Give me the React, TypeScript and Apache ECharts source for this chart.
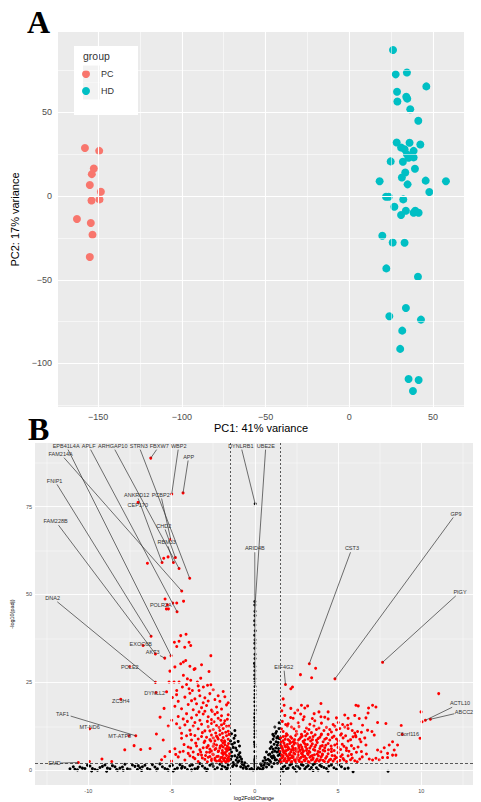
import React, { useEffect, useRef } from "react";
import * as echarts from "echarts";

const FONT = "'Liberation Sans', Arial, Helvetica, sans-serif";
const SERIF = "'Liberation Serif', 'Times New Roman', serif";

// ---------- Panel A: PCA ----------
const pcX = [-157.9, -149.4, -152.6, -153.8, -155.0, -148.4, -154.0, -149.2, -162.7, -154.4, -153.4, -155.0];
const pcY = [28.7, 27.0, 16.5, 13.1, 6.6, 2.6, -2.6, -2.0, -13.7, -16.1, -23.1, -36.4];
const hdX = [26.1, 27.7, 34.4, 46.0, 28.5, 34.0, 34.6, 28.7, 36.4, 41.2, 28.3, 36.0, 42.4, 30.9, 33.0, 38.4, 34.4, 37.4, 38.4, 35.4, 24.7, 32.0, 39.2, 33.4, 31.4, 18.1, 34.8, 45.6, 57.7, 47.8, 21.9, 23.5, 32.2, 26.9, 33.8, 38.4, 41.4, 30.9, 39.4, 19.7, 25.9, 33.0, 22.1, 41.0, 33.8, 23.9, 42.8, 31.6, 30.4, 35.4, 41.4, 38.0];
const hdY = [87.2, 72.7, 73.8, 65.5, 62.3, 59.3, 58.2, 56.5, 51.9, 45.0, 32.0, 31.8, 30.8, 29.0, 28.0, 27.0, 25.0, 23.9, 23.1, 22.9, 20.7, 20.5, 16.3, 14.1, 11.1, 8.8, 7.0, 9.2, 8.8, 2.4, -0.4, -0.4, -2.0, -6.4, -8.8, -10.0, -10.0, -11.3, -8.8, -23.7, -27.7, -27.9, -43.2, -48.2, -66.9, -71.8, -73.8, -80.4, -91.3, -109.3, -109.9, -116.4];
const pcaXTicks = [-150, -100, -50, 0, 50];
const pcaXMinor = [-125, -75, -25, 25];
const pcaYTicks = [-100, -50, 0, 50];
const pcaYMinor = [-125, -75, -25, 25, 75];

// ---------- Panel B: volcano ----------
// significant, down-regulated (x, y pairs)
const sigDown = [
  -6.25, 88.8, -4.99, 78.6, -4.31, 78.9, -7.01, 76.2, -5.05, 65.7, -6.45, 58.9, -5.57, 59.1, -5.47, 60.3,
  -5.21, 60.7, -4.77, 60.5, -4.89, 59.1, -4.55, 57.4, -3.91, 54.6, -4.39, 51.0, -5.39, 48.7, -4.93, 47.6,
  -4.69, 47.6, -4.28, 48.1, -5.25, 47.1, -5.19, 45.9, -5.31, 45.9, -4.67, 45.1, -6.23, 38.1, -6.71, 35.5,
  -5.97, 33.1, -5.03, 32.6, -5.41, 31.9, -7.51, 29.5, -5.97, 25.0, -5.93, 22.1, -8.05, 20.2, -9.92, 11.8,
  -7.15, 9.8, -7.55, 9.8, -10.6, 2.2, -9.93, 2.5, -9.18, 3.2, -8.59, 2.5, -7.81, 5.8, -7.25, 7.0,
  -6.85, 5.9, -6.29, 6.2, -5.91, 10.3, -5.69, 15.1, -5.45, 17.6, -4.99, 14.2, -5.15, 25.1, -4.85, 25.1,
  -2.64, 32.6, -4.45, 38.3, -4.83, 36.4, -4.55, 36.7, -4.13, 38.7, -3.95, 36.4, -4.21, 35.0, -3.85, 35.5,
  -4.69, 35.2, -4.29, 30.8, -4.15, 31.2, -4.45, 30.3, -3.59, 28.9, -3.65, 28.7, -4.29, 27.0, -4.05, 26.0,
  -3.85, 25.6, -3.45, 25.1, -3.25, 26.2, -4.55, 25.1, -4.69, 22.7, -4.35, 23.7, -3.95, 23.2, -3.75, 22.7,
  -3.35, 22.7, -3.09, 23.7, -2.75, 28.1, -2.84, 24.2, -2.64, 24.3,
  -4.7, 21.5, -4.2, 20.8, -3.9, 21.9, -3.6, 20.3, -3.3, 21.2, -3.0, 20.6, -2.7, 21.8, -2.4, 20.1, -2.1, 19.6, -1.8, 20.9,
  -4.8, 18.2, -4.4, 17.5, -4.0, 18.7, -3.7, 17.2, -3.5, 18.9, -3.2, 17.8, -2.9, 18.4, -2.6, 17.1, -2.3, 18.0, -2.0, 17.4, -1.7, 18.6,
  -4.6, 15.3, -4.3, 14.6, -4.1, 16.1, -3.8, 14.9, -3.5, 15.7, -3.3, 14.2, -3.1, 16.0, -2.8, 15.2, -2.6, 14.4, -2.4, 15.9,
  -2.2, 14.8, -2.0, 15.5, -1.8, 14.1, -1.6, 15.8,
  -4.5, 12.1, -4.2, 12.9, -3.9, 11.4, -3.7, 12.6, -3.4, 11.8, -3.2, 13.1, -3.0, 11.2, -2.8, 12.4, -2.6, 13.3, -2.5, 11.6,
  -2.3, 12.7, -2.1, 11.3, -2.0, 12.9, -1.9, 11.9, -1.7, 12.5, -1.6, 11.1,
  -4.4, 9.1, -4.1, 9.8, -3.8, 8.6, -3.6, 9.9, -3.4, 8.9, -3.2, 9.6, -3.0, 8.3, -2.9, 9.4, -2.7, 8.7, -2.6, 10.0,
  -2.5, 9.2, -2.4, 8.4, -2.3, 9.7, -2.2, 8.9, -2.1, 10.1, -2.0, 8.5, -1.9, 9.3, -1.8, 8.1, -1.7, 9.8, -1.6, 8.8, -1.55, 10.2,
  -4.8, 6.1, -4.3, 5.4, -4.0, 6.6, -3.7, 5.2, -3.5, 6.9, -3.3, 5.8, -3.1, 6.4, -2.9, 5.1, -2.8, 7.0, -2.7, 6.0,
  -2.6, 5.5, -2.5, 6.8, -2.4, 5.9, -2.3, 7.2, -2.2, 5.3, -2.1, 6.3, -2.0, 7.0, -1.95, 5.6, -1.9, 6.6, -1.85, 5.0,
  -1.8, 7.3, -1.75, 6.1, -1.7, 5.4, -1.65, 6.9, -1.6, 5.8, -1.55, 6.4,
  -5.6, 3.0, -5.0, 2.6, -4.6, 3.8, -4.2, 2.9, -3.9, 4.1, -3.6, 3.3, -3.4, 2.5, -3.2, 4.3, -3.0, 3.1, -2.85, 2.4,
  -2.7, 3.9, -2.6, 2.8, -2.5, 4.4, -2.4, 3.4, -2.3, 2.6, -2.2, 4.0, -2.1, 3.0, -2.0, 2.4, -1.95, 3.7, -1.9, 4.5,
  -1.85, 2.8, -1.8, 3.5, -1.75, 2.3, -1.7, 4.2, -1.65, 3.1, -1.6, 2.6, -1.55, 3.9, -1.52, 2.9,
  -1.52, 4.7, -1.58, 7.6, -1.62, 3.4, -1.68, 6.2, -1.72, 2.5, -1.78, 4.8, -1.82, 8.4, -1.88, 3.2, -1.92, 7.8, -1.98, 4.9,
  -2.04, 3.6, -2.08, 6.9, -2.14, 2.7, -2.18, 5.5, -2.24, 9.3, -2.28, 3.9, -2.34, 6.2, -2.4, 2.9, -2.46, 7.5, -2.52, 4.6,
  -2.58, 3.2, -2.64, 8.3, -2.72, 5.1, -2.8, 3.7, -2.88, 6.5, -2.96, 4.2, -3.05, 7.9, -3.15, 3.5, -3.25, 5.2, -3.4, 4.5,
  -3.55, 7.7, -3.7, 3.7, -3.85, 6.3, -4.0, 4.8, -4.25, 7.3, -4.5, 5.2, -4.75, 4.5, -5.1, 5.3, -5.4, 3.9,
  -1.55, 12.6, -1.65, 14.5, -1.75, 10.8, -1.85, 13.3, -1.95, 10.5, -2.05, 14.2, -2.15, 12.2, -2.25, 16.4, -2.35, 10.6,
  -2.45, 13.8, -2.55, 16.7, -2.7, 11.2, -2.85, 13.9, -3.0, 16.8, -3.15, 10.7, -3.35, 16.6, -3.6, 13.6, -3.85, 10.2,
  -4.05, 13.9, -4.4, 10.5, -4.7, 13.2, -5.2, 12.6, -5.5, 8.6,
  -1.6, 19.2, -1.9, 22.4, -2.2, 21.2, -2.5, 22.9, -2.8, 19.7, -3.1, 19.2, -3.4, 24.0, -3.8, 19.8, -4.1, 24.4, -4.6, 19.6,
  -4.95, 20.7, -5.3, 22.3, -5.1, 28.2, -4.8, 29.4, -3.2, 30.0, -3.9, 29.6
];
// significant, up-regulated
const sigUp = [
  3.27, 30.3, 3.65, 29.0, 2.74, 27.2, 3.41, 26.3, 4.81, 26.0, 7.67, 30.7, 1.84, 24.4, 2.16, 23.2, 2.26, 23.7,
  11.04, 21.8, 9.98, 16.6, 10.04, 13.8, 10.24, 14.2, 10.54, 14.5, 8.79, 12.7, 8.85, 10.2, 9.92, 9.1,
  2.80, 18.5, 3.17, 18.3, 3.0, 17.7, 3.97, 19.0, 1.76, 18.5, 2.16, 17.6, 2.57, 17.1, 6.07, 18.5, 6.21, 18.3,
  6.83, 17.7, 7.07, 18.5, 7.27, 18.0, 3.56, 16.1, 2.96, 15.2, 3.97, 15.2, 5.01, 13.6, 5.27, 13.0, 5.57, 12.8,
  5.77, 13.2, 6.27, 14.7, 6.67, 14.9, 6.47, 12.8, 7.37, 13.6, 7.87, 13.3, 6.77, 11.4, 7.17, 10.0, 7.03, 11.0,
  6.17, 11.0, 6.07, 9.5, 6.37, 8.1, 6.67, 7.2,
  7.37, 5.75, 7.57, 5.28, 7.77, 6.4, 7.97, 4.8, 8.07, 7.2, 8.27, 8.1, 8.37, 5.75, 8.47, 4.3, 8.27, 4.3, 8.57, 7.2,
  6.87, 3.2, 7.07, 2.9, 7.27, 3.4, 7.47, 3.0, 7.67, 3.6, 7.97, 3.6,
  1.6, 11.8, 1.9, 10.4, 2.2, 12.3, 2.5, 11.1, 2.8, 10.2, 3.1, 12.0, 3.4, 10.7, 3.7, 11.6, 4.0, 10.3, 4.3, 12.2,
  4.6, 10.9, 4.9, 11.5, 5.2, 10.4, 5.6, 11.9, 6.0, 10.6,
  1.55, 9.2, 1.7, 8.4, 1.85, 9.7, 2.0, 8.7, 2.15, 9.5, 2.3, 8.1, 2.45, 9.9, 2.6, 8.6, 2.75, 9.3, 2.9, 8.2,
  3.05, 9.8, 3.2, 8.9, 3.35, 8.3, 3.5, 9.6, 3.7, 8.5, 3.9, 9.4, 4.1, 8.1, 4.3, 9.1, 4.5, 8.6, 4.75, 9.7,
  5.0, 8.4, 5.3, 9.2, 5.6, 8.3, 5.9, 9.5, 6.3, 8.8,
  1.55, 7.1, 1.65, 6.3, 1.75, 7.7, 1.85, 6.6, 1.95, 7.3, 2.05, 6.1, 2.15, 7.9, 2.25, 6.8, 2.35, 7.4, 2.45, 6.2,
  2.55, 7.6, 2.65, 6.5, 2.75, 7.2, 2.85, 6.0, 2.95, 7.8, 3.05, 6.7, 3.15, 7.3, 3.3, 6.3, 3.45, 7.5, 3.6, 6.6,
  3.75, 7.9, 3.9, 6.2, 4.05, 7.0, 4.2, 6.4, 4.4, 7.6, 4.6, 6.1, 4.8, 7.2, 5.0, 6.5, 5.25, 7.4, 5.5, 6.3, 5.8, 7.0, 6.2, 6.6,
  1.52, 5.3, 1.6, 4.4, 1.68, 5.8, 1.76, 4.9, 1.84, 5.5, 1.92, 4.2, 2.0, 5.9, 2.08, 4.7, 2.16, 5.2, 2.24, 4.1,
  2.32, 5.7, 2.4, 4.6, 2.5, 5.4, 2.6, 4.3, 2.7, 5.8, 2.8, 4.8, 2.9, 5.3, 3.0, 4.0, 3.1, 5.6, 3.2, 4.5,
  3.3, 5.1, 3.45, 4.2, 3.6, 5.7, 3.75, 4.6, 3.9, 5.2, 4.05, 4.3, 4.2, 5.5, 4.4, 4.7, 4.6, 5.3, 4.8, 4.1,
  5.0, 5.0, 5.25, 4.4, 5.5, 5.6, 5.8, 4.5, 6.1, 5.1,
  1.52, 3.1, 1.58, 2.4, 1.66, 3.7, 1.74, 2.7, 1.82, 3.3, 1.9, 2.3, 1.98, 3.9, 2.06, 2.9, 2.14, 3.5, 2.22, 2.5,
  2.3, 3.8, 2.38, 3.0, 2.46, 2.4, 2.55, 3.6, 2.64, 2.8, 2.73, 3.4, 2.82, 2.3, 2.91, 3.9, 3.0, 2.7, 3.1, 3.3,
  3.2, 2.5, 3.3, 3.7, 3.4, 2.9, 3.5, 3.5, 3.62, 2.4, 3.74, 3.2, 3.86, 2.6, 3.98, 3.8, 4.1, 2.8, 4.25, 3.4,
  4.4, 2.4, 4.55, 3.1, 4.7, 2.6, 4.9, 3.6, 5.1, 2.8, 5.3, 3.3, 5.5, 2.5, 5.75, 3.0, 6.0, 2.7, 6.3, 3.2,
  1.65, 13.9, 1.8, 15.6, 2.0, 13.2, 2.3, 14.8, 2.6, 13.5, 2.9, 14.4, 3.3, 13.1, 3.6, 14.1, 4.0, 13.4, 4.4, 14.6,
  4.7, 13.0, 1.7, 20.3, 1.62, 16.9, 2.4, 16.3, 4.4, 16.6, 5.4, 15.7,
  1.56, 2.2, 1.62, 3.5, 1.7, 4.1, 1.78, 3.0, 1.86, 4.7, 1.94, 2.6, 2.02, 3.3, 2.1, 4.4, 2.18, 2.2, 2.26, 3.6,
  2.34, 4.9, 2.42, 2.8, 2.52, 3.2, 2.6, 5.1, 2.68, 2.5, 2.78, 3.7, 2.86, 4.5, 2.96, 2.9, 3.06, 3.4, 3.16, 4.8,
  3.26, 2.3, 3.36, 4.0, 3.48, 3.1, 3.58, 4.4, 3.7, 2.8, 3.82, 4.1, 3.94, 3.0, 4.06, 4.6, 4.18, 2.5, 4.32, 3.9,
  4.48, 2.9, 4.64, 4.2, 4.8, 3.2, 4.98, 2.4, 5.16, 3.9, 5.36, 2.9, 5.6, 4.1, 5.85, 3.5, 6.15, 2.4, 6.45, 3.8,
  1.6, 6.8, 1.72, 5.2, 1.8, 7.0, 1.9, 5.6, 2.0, 6.5, 2.1, 7.6, 2.2, 5.8, 2.3, 6.3, 2.4, 7.8, 2.5, 6.0,
  2.62, 7.0, 2.72, 5.6, 2.82, 6.6, 2.92, 5.5, 3.02, 7.4, 3.12, 6.1, 3.25, 5.4, 3.38, 6.9, 3.52, 5.9, 3.66, 7.2,
  3.8, 5.3, 3.95, 6.8, 4.1, 5.7, 4.26, 7.1, 4.42, 5.8, 4.58, 6.9, 4.76, 5.6, 4.95, 7.5, 5.15, 5.9, 5.35, 6.8,
  5.65, 5.4, 5.95, 6.2, 6.4, 5.3, 6.7, 4.6,
  1.58, 8.0, 1.7, 9.6, 1.82, 8.8, 1.95, 10.0, 2.08, 8.4, 2.22, 9.1, 2.38, 8.7, 2.52, 10.3, 2.68, 8.9, 2.84, 9.7,
  3.0, 8.6, 3.15, 10.4, 3.3, 9.3, 3.46, 8.7, 3.62, 10.1, 3.8, 9.0, 3.98, 10.0, 4.2, 8.8, 4.4, 10.2, 4.65, 9.3,
  4.9, 8.9, 5.15, 10.0, 5.45, 9.8, 5.75, 8.7, 6.05, 9.9, 6.6, 9.2,
  1.7, 11.0, 1.95, 12.6, 2.35, 11.8, 2.65, 12.4, 3.0, 11.0, 3.25, 11.6, 3.55, 12.6, 3.85, 12.0, 4.15, 11.3, 4.5, 11.6,
  4.8, 12.5, 5.1, 11.9, 5.4, 12.3, 5.85, 11.3, 6.4, 10.8, 1.85, 13.0, 2.15, 15.0, 2.75, 16.0, 3.45, 14.7, 3.85, 16.6,
  4.2, 15.1, 4.9, 14.9, 5.6, 14.8, 6.0, 15.6, 6.8, 16.3
];
// not significant
const notSig = [
  -10.8, 0.3, -10.5, 0.9, -10.2, 0.5, -9.9, 1.2, -9.6, 0.2, -9.3, 0.8, -9.0, 1.5, -8.7, 0.4, -8.4, 1.0, -8.1, 0.6,
  -7.8, 1.7, -7.5, 0.3, -7.2, 1.1, -6.9, 0.7, -6.6, 1.4, -6.3, 0.2, -6.0, 0.9, -5.7, 1.8, -5.4, 0.5, -5.1, 1.2,
  -4.8, 0.3, -4.5, 1.6, -4.2, 0.8, -3.9, 1.3, -3.6, 0.4, -3.3, 1.9, -3.0, 0.6, -2.7, 1.4, -2.4, 0.2, -2.1, 1.7,
  -1.8, 0.9, -1.6, 1.5, -10.9, 1.0, -9.8, -0.2, -8.9, -0.3, -7.9, 0.0, -6.8, -0.1, -5.9, 0.1, -4.9, -0.2, -3.8, 0.1,
  -2.9, -0.1, -2.0, 0.3, -11.1, 0.4, -8.3, 0.2, -7.0, 1.3, -5.2, 0.0, -4.4, 0.6, -3.4, 0.9, -2.5, 1.1, -1.7, 0.2,
  -10.65, 0.1, -10.35, 0.6, -10.05, 1.4, -9.75, 0.5, -9.45, 0.0, -9.15, 1.1, -8.85, 0.6, -8.55, 1.3, -8.25, 0.0, -7.95, 0.9,
  -7.65, 0.4, -7.35, 1.5, -7.05, 0.2, -6.75, 1.0, -6.45, 0.5, -6.15, 1.6, -5.85, 0.4, -5.55, 1.0, -5.25, 0.3, -4.95, 1.4,
  -4.65, 0.6, -4.35, 1.1, -4.05, 0.2, -3.75, 1.5, -3.45, 0.5, -3.15, 1.2, -2.85, 0.3, -2.55, 1.8, -2.25, 0.7, -1.95, 1.2, -1.65, 0.6,
  -1.45, 3.1, -1.4, 5.2, -1.35, 7.4, -1.3, 2.2, -1.25, 9.1, -1.2, 4.1, -1.15, 6.3, -1.1, 1.3, -1.05, 3.6, -1.0, 8.2,
  -0.95, 2.7, -0.9, 5.0, -0.85, 1.0, -0.8, 3.2, -0.7, 0.6, -0.6, 2.1, -0.5, 0.4, -0.4, 1.2, -0.3, 0.3, -1.4, 10.4, -1.2, 11.3,
  -1.48, 6.0, -1.33, 1.1, -1.22, 7.8, -1.12, 2.9, -0.98, 4.4, -0.75, 1.7,
  -1.46, 8.3, -1.38, 4.0, -1.3, 6.5, -1.26, 1.6, -1.18, 9.9, -1.08, 5.6, -1.02, 2.3, -0.92, 6.9, -0.88, 3.8, -0.78, 2.4,
  -0.66, 1.4, -0.55, 0.9, -0.2, 0.5, -0.1, 0.1,
  0.3, 0.4, 0.4, 1.3, 0.5, 0.6, 0.6, 2.0, 0.7, 0.9, 0.8, 3.1, 0.85, 1.6, 0.9, 4.6, 0.95, 2.4, 1.0, 6.7,
  1.05, 3.5, 1.1, 8.8, 1.15, 1.9, 1.2, 5.4, 1.25, 10.5, 1.3, 3.0, 1.35, 7.1, 1.4, 4.2, 1.45, 11.9, 1.48, 2.6,
  1.2, 12.3, 1.38, 9.6, 1.1, 6.0, 0.95, 8.0, 1.42, 6.2, 1.28, 8.1, 1.47, 9.0, 1.33, 5.2, 1.18, 3.6, 1.02, 1.0,
  0.1, 0.2, 0.2, 0.7, 0.35, 1.8, 0.45, 0.2, 0.55, 1.4, 0.65, 2.9, 0.75, 1.9, 0.82, 4.4, 0.88, 2.8, 0.92, 6.2,
  0.98, 3.9, 1.05, 5.1, 1.08, 10.2, 1.12, 4.1, 1.16, 7.4, 1.22, 2.9, 1.26, 6.3, 1.32, 9.2, 1.36, 2.0, 1.4, 7.9,
  1.44, 5.4, 1.46, 13.5, 1.49, 4.5, 1.3, 11.0, 1.15, 9.7, 0.7, 5.2, 0.6, 3.6, 0.5, 2.6,
  0.02, 75.8, 0.0, 48.0, 0.01, 45.2, -0.01, 42.5, 0.02, 39.7, 0.0, 36.1, 0.01, 33.0, -0.02, 30.4, 0.0, 28.3,
  0.01, 23.8, 0.0, 19.5, 0.02, 17.1, -0.01, 15.0, 0.0, 13.1, 0.01, 11.2, 0.0, 9.4, -0.02, 8.0, 0.01, 6.7,
  0.0, 5.3, 0.02, 4.0, -0.01, 2.9, 0.0, 1.8, 0.01, 0.9, 0.0, 0.2, 0.0, 26.0, 0.01, 21.6, 0.0, 14.1, 0.0, 10.3,
  0.0, 47.0, 0.01, 44.0, 0.0, 41.3, -0.01, 38.4, 0.01, 37.1, 0.0, 34.7, 0.01, 31.8, 0.0, 29.5, -0.01, 27.1, 0.0, 25.0,
  0.01, 22.7, 0.0, 20.6, 0.01, 18.3, 0.0, 16.1, -0.01, 12.2, 0.0, 7.3, 0.01, 3.4, 0.0, 2.4, 0.01, 1.3,
  1.6, 0.3, 1.8, 1.2, 2.0, 0.6, 2.2, 1.8, 2.4, 0.2, 2.6, 1.0, 2.8, 1.6, 3.0, 0.4, 3.2, 1.3, 3.4, 0.8,
  3.6, 1.9, 3.8, 0.1, 4.0, 1.1, 4.3, 0.5, 4.6, 1.5, 4.9, 0.3, 5.2, 1.0, 5.6, 0.6, 5.9, -0.4, 8.0, -0.3,
  1.7, -0.2, 2.5, -0.3, 3.5, -0.1, 4.4, -0.2,
  1.7, 0.9, 1.9, 0.4, 2.1, 1.5, 2.3, 0.8, 2.5, 1.2, 2.7, 0.5, 2.9, 1.4, 3.1, 0.9, 3.3, 0.2, 3.5, 1.6,
  3.7, 0.7, 3.9, 1.4, 4.15, 0.8, 4.45, 1.2, 4.75, 0.7, 5.05, 1.5, 5.4, 0.4
];
const geneNames = ["EPB41L4A", "FAM214A", "APLF", "ARHGAP10", "STRN3", "FBXW7", "WBP2", "APP", "FNIP1", "FAM228B", "DNA2", "ANKRD12", "PCBP2", "CEP170", "CHD2", "RBM33", "POLR2A", "EXOC6B", "AKT3", "POLE2", "DYNLL2", "ZC3H4", "TAF1", "MT-ND6", "MT-ATP8", "EMD", "DYNLRB1", "UBE2E", "ARID4B", "CST3", "GP9", "PIGY", "EIF4G2", "ACTL10", "ABCC2", "C6orf116"];
const geneLabelX = [-11.33, -11.66, -9.98, -8.53, -6.97, -5.74, -4.57, -3.97, -12.02, -11.96, -12.14, -7.09, -5.65, -7.03, -5.47, -5.29, -5.65, -6.85, -6.13, -7.51, -6.01, -8.05, -11.54, -9.92, -8.11, -12.02, -0.84, 0.66, 0.0, 5.83, 12.08, 12.32, 1.74, 12.32, 12.56, 9.19];
const geneLabelY = [92.3, 90.0, 92.3, 92.3, 92.3, 92.3, 92.3, 89.2, 82.4, 70.8, 49.0, 78.4, 78.4, 75.6, 69.6, 64.8, 47.0, 36.0, 33.7, 29.4, 22.1, 19.8, 16.1, 12.2, 9.6, 2.0, 92.3, 92.3, 63.1, 63.1, 73.0, 50.7, 29.4, 19.0, 16.7, 10.2];
const genePointX = [-5.03, -4.39, -4.67, -4.55, -3.91, -6.25, -4.99, -4.31, -6.23, -5.97, -5.97, -5.57, -5.05, -7.01, -4.77, -4.89, -5.25, -6.71, -5.41, -7.51, -5.93, -8.05, -7.15, -9.92, -7.55, -10.6, 0.02, -0.01, 0.01, 3.27, 4.81, 7.67, 1.84, 10.24, 10.54, 8.85];
const genePointY = [32.6, 51.0, 45.1, 57.4, 54.6, 88.8, 78.6, 78.9, 38.1, 33.1, 25.0, 59.1, 65.7, 76.2, 60.5, 59.1, 47.1, 35.5, 31.9, 29.5, 22.1, 20.2, 9.8, 11.8, 9.8, 2.2, 75.8, 45.2, 23.8, 30.3, 26.0, 30.7, 24.4, 14.2, 14.5, 10.2];
const volXTicks = [-10, -5, 0, 5, 10];
const volXMinor = [-12.5, -7.5, -2.5, 2.5, 7.5, 12.5];
const volYTicks = [0, 25, 50, 75];
const volYMinor = [12.5, 37.5, 62.5, 87.5];
const fcCut = [-1.5, 1.5];
const padjCut = 2;

const pairs = (flat: number[]) => {
  const out: number[][] = [];
  for (let i = 0; i + 1 < flat.length; i += 2) out.push([flat[i], flat[i + 1]]);
  return out;
};
const zip = (a: number[], b: number[]) => a.map((v, i) => [v, b[i]]);
const minus = (v: number) => String(v).replace("-", "\u2212");

function gridLines(xMajor: number[], xMinor: number[], yMajor: number[], yMinor: number[], wMaj: number, wMin: number) {
  const d: any[] = [];
  xMinor.forEach((v) => d.push({ xAxis: v, lineStyle: { color: "#ffffff", width: wMin, type: "solid" } }));
  yMinor.forEach((v) => d.push({ yAxis: v, lineStyle: { color: "#ffffff", width: wMin, type: "solid" } }));
  xMajor.forEach((v) => d.push({ xAxis: v, lineStyle: { color: "#ffffff", width: wMaj, type: "solid" } }));
  yMajor.forEach((v) => d.push({ yAxis: v, lineStyle: { color: "#ffffff", width: wMaj, type: "solid" } }));
  return d;
}

export default function App() {
  const ref = useRef<HTMLDivElement>(null);
  useEffect(() => {
    if (!ref.current) return;
    const chart = echarts.init(ref.current, null, { renderer: "svg" });
    const tickStyle = { color: "#333333", width: 0.8 };
    const labelFont = 5.5;
    const option: any = {
      animation: false,
      backgroundColor: "#ffffff",
      grid: [
        { left: 58, top: 32, width: 406, height: 375, show: true, backgroundColor: "#EBEBEB", borderWidth: 0 },
        { left: 35, top: 443, width: 438, height: 344, show: true, backgroundColor: "#EBEBEB", borderWidth: 0 },
      ],
      xAxis: [
        {
          type: "value", gridIndex: 0, min: -174, max: 68.5,
          axisLine: { show: false }, splitLine: { show: false },
          axisTick: { show: true, customValues: pcaXTicks, length: 3, lineStyle: tickStyle },
          axisLabel: { customValues: pcaXTicks, formatter: minus, color: "#4D4D4D", fontSize: 9, fontFamily: FONT, margin: 5 },
          name: "PC1: 41% variance", nameLocation: "middle", nameGap: 15,
          nameTextStyle: { color: "#000", fontSize: 11, fontFamily: FONT },
        },
        {
          type: "value", gridIndex: 1, min: -13.2, max: 13.1,
          axisLine: { show: false }, splitLine: { show: false },
          axisTick: { show: true, customValues: volXTicks, length: 2, lineStyle: tickStyle },
          axisLabel: { customValues: volXTicks, color: "#4D4D4D", fontSize: 5.5, fontFamily: FONT, margin: 3 },
          name: "log2FoldChange", nameLocation: "middle", nameGap: 10,
          nameTextStyle: { color: "#000", fontSize: 5.5, fontFamily: FONT },
        },
      ],
      yAxis: [
        {
          type: "value", gridIndex: 0, min: -126, max: 98,
          axisLine: { show: false }, splitLine: { show: false },
          axisTick: { show: true, customValues: pcaYTicks, length: 3, lineStyle: tickStyle },
          axisLabel: { customValues: pcaYTicks, formatter: minus, color: "#4D4D4D", fontSize: 9, fontFamily: FONT, margin: 6 },
          name: "PC2: 17% variance", nameLocation: "middle", nameGap: 28,
          nameTextStyle: { color: "#000", fontSize: 11, fontFamily: FONT },
        },
        {
          type: "value", gridIndex: 1, min: -4.2, max: 93.1,
          axisLine: { show: false }, splitLine: { show: false },
          axisTick: { show: true, customValues: volYTicks, length: 2, lineStyle: tickStyle },
          axisLabel: { customValues: volYTicks, color: "#4D4D4D", fontSize: 5.5, fontFamily: FONT, margin: 3 },
          name: "-log10(padj)", nameLocation: "middle", nameGap: 8,
          nameTextStyle: { color: "#000", fontSize: 5.5, fontFamily: FONT },
        },
      ],
      legend: {
        data: ["PC", "HD"], orient: "vertical", left: 82, top: 69,
        itemWidth: 20, itemHeight: 8, itemGap: 7, icon: "circle", padding: 0,
        textStyle: { fontSize: 9, color: "#333", fontFamily: FONT, lineHeight: 10 },
        selectedMode: false,
      },
      graphic: [
        { type: "text", left: 27, top: 6, z: 10, style: { text: "A", font: `bold 32px ${SERIF}`, fill: "#000" } },
        { type: "text", left: 28, top: 413, z: 10, style: { text: "B", font: `bold 32px ${SERIF}`, lineHeight: 20, fill: "#000" } },
        { type: "rect", shape: { x: 74, y: 46, width: 64, height: 69 }, style: { fill: "#ffffff" }, z: 3 },
        { type: "rect", shape: { x: 83, y: 65.5, width: 17, height: 17 }, style: { fill: "#F2F2F2" }, z: 3 },
        { type: "rect", shape: { x: 83, y: 82.5, width: 17, height: 17 }, style: { fill: "#F2F2F2" }, z: 3 },
        { type: "text", x: 83, y: 56, z: 5, style: { text: "group", fontSize: 10.5, fontFamily: FONT, fill: "#333", textVerticalAlign: "middle" } },
      ],
      series: [
        {
          type: "scatter", name: "gridA", xAxisIndex: 0, yAxisIndex: 0, data: [], z: 1, silent: true,
          markLine: { silent: true, symbol: ["none", "none"], label: { show: false }, data: gridLines(pcaXTicks, pcaXMinor, pcaYTicks, pcaYMinor, 1.1, 0.55) },
        },
        {
          type: "scatter", name: "gridB", xAxisIndex: 1, yAxisIndex: 1, data: [], z: 1, silent: true,
          markLine: { silent: true, symbol: ["none", "none"], label: { show: false }, data: gridLines(volXTicks, volXMinor, volYTicks, volYMinor, 0.9, 0.45) },
        },
        {
          type: "scatter", name: "PC", xAxisIndex: 0, yAxisIndex: 0, data: zip(pcX, pcY),
          symbolSize: 8, itemStyle: { color: "#F8766D", opacity: 1 }, z: 3,
        },
        {
          type: "scatter", name: "HD", xAxisIndex: 0, yAxisIndex: 0, data: zip(hdX, hdY),
          symbolSize: 8, itemStyle: { color: "#00BFC4", opacity: 1 }, z: 3,
        },
        {
          type: "scatter", name: "NS", xAxisIndex: 1, yAxisIndex: 1, data: pairs(notSig),
          symbolSize: 3, itemStyle: { color: "#000000", opacity: 1 }, z: 3,
        },
        {
          type: "scatter", name: "Down", xAxisIndex: 1, yAxisIndex: 1, data: pairs(sigDown),
          symbolSize: 3, itemStyle: { color: "#FF0000", opacity: 1 }, z: 3,
        },
        {
          type: "scatter", name: "Up", xAxisIndex: 1, yAxisIndex: 1, data: pairs(sigUp),
          symbolSize: 3, itemStyle: { color: "#FF0000", opacity: 1 }, z: 3,
        },
        {
          type: "scatter", name: "cut", xAxisIndex: 1, yAxisIndex: 1, data: [], z: 4, silent: true,
          markLine: {
            silent: true, symbol: ["none", "none"], label: { show: false },
            data: [
              ...fcCut.map((v) => ({ xAxis: v, lineStyle: { color: "#333", width: 0.8, type: [2, 2] } })),
              { yAxis: padjCut, lineStyle: { color: "#333", width: 0.8, type: [3, 2] } },
            ],
          },
        },
        {
          type: "custom", name: "labels", xAxisIndex: 1, yAxisIndex: 1, z: 6, silent: true,
          data: geneNames.map((n, i) => [geneLabelX[i], geneLabelY[i], genePointX[i], genePointY[i]]),
          encode: { x: [0, 2], y: [1, 3] },
          renderItem: (params: any, api: any) => {
            const i = params.dataIndex;
            const l = api.coord([api.value(0), api.value(1)]);
            const p = api.coord([api.value(2), api.value(3)]);
            const name = geneNames[i];
            const hw = name.length * 1.75 + 1;
            const hh = 3.8;
            const dx = p[0] - l[0];
            const dy = p[1] - l[1];
            const tx = dx === 0 ? Infinity : hw / Math.abs(dx);
            const ty = dy === 0 ? Infinity : hh / Math.abs(dy);
            const t = Math.min(tx, ty);
            const children: any[] = [];
            if (t < 1) {
              children.push({
                type: "line",
                shape: { x1: l[0] + dx * t, y1: l[1] + dy * t, x2: p[0], y2: p[1] },
                style: { stroke: "#333", lineWidth: 0.7 },
              });
            }
            children.push({
              type: "text",
              style: { text: name, x: l[0], y: l[1], textAlign: "center", textVerticalAlign: "middle", fontSize: labelFont, fontFamily: FONT, fill: "#333" },
            });
            return { type: "group", children };
          },
        },
      ],
    };
    chart.setOption(option);
    return () => chart.dispose();
  }, []);
  return <div ref={ref} style={{ position: "fixed", left: 0, top: 0, width: 481, height: 802 }} />;
}
